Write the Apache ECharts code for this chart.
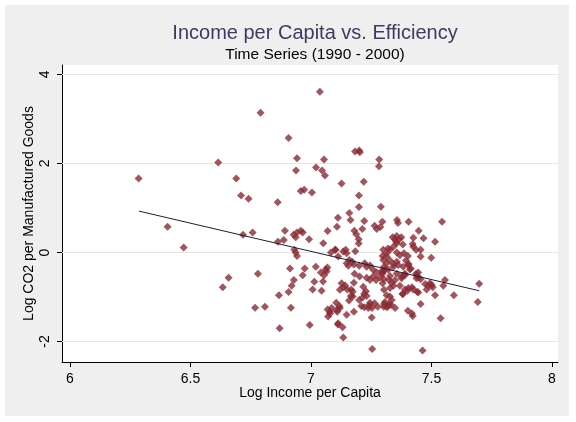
<!DOCTYPE html>
<html>
<head>
<meta charset="utf-8">
<script src="https://cdn.jsdelivr.net/npm/echarts@6/dist/echarts.min.js"></script>
<style>
html,body{margin:0;padding:0;background:#ffffff;}
#chart{width:576px;height:422px;}
</style>
</head>
<body>
<div id="chart"></div>
<script>
// ---- data ----
const xTicks = [6, 6.5, 7, 7.5, 8];
const yTicks = [-2, 0, 2, 4];

const logIncome = [
6.285,6.615,6.69,6.71,7.037,6.791,6.907,6.741,6.862,6.942,6.938,7.021,7.046,7.054,7.058,6.958,6.972,7.004,7.127,
7.183,7.20,7.203,7.219,7.283,7.282,7.199,7.199,7.29,6.405,6.472,6.658,6.634,6.718,6.758,6.78,6.768,6.809,6.867,6.87,
6.863,6.892,6.887,6.928,6.937,6.942,6.958,6.966,6.992,6.931,6.937,6.942,6.913,6.974,6.929,6.92,6.907,6.966,7.02,
7.041,7.061,7.068,7.014,7.05,7.007,7.044,6.917,6.995,7.051,7.069,7.083,7.102,7.113,7.108,7.112,7.159,7.164,7.221,
7.213,7.18,7.188,7.198,7.198,7.264,7.273,7.288,7.296,7.357,7.144,7.148,7.184,7.159,7.171,7.178,7.148,7.155,7.223,
7.20,7.181,7.202,7.178,7.231,7.245,7.258,7.27,7.286,7.296,7.303,7.295,7.303,7.314,7.321,7.342,7.356,7.297,7.314,
7.328,7.342,7.356,7.339,7.356,7.258,7.273,7.245,7.231,7.127,7.134,7.142,7.12,7.167,7.173,7.158,7.20,7.214,7.221,
7.228,7.209,7.221,7.241,7.253,7.264,7.277,7.252,7.303,7.314,7.328,7.335,7.324,7.307,7.302,7.315,7.069,7.079,7.086,
7.071,7.109,7.12,7.105,7.118,7.148,7.178,7.112,7.131,7.134,7.254,7.335,7.328,7.324,7.297,7.361,7.405,7.544,7.447,
7.467,7.515,7.425,7.422,7.349,7.366,7.375,7.353,7.381,7.30,7.32,7.425,7.436,7.455,7.369,7.386,7.402,7.455,7.499,
7.30,7.314,7.328,7.342,7.362,7.394,7.405,7.414,7.307,7.297,7.328,7.356,7.376,7.39,7.436,7.447,7.455,7.438,7.474,
7.488,7.505,7.494,7.556,7.549,7.515,7.593,7.698,7.692,7.538,7.455,7.402,7.422,7.419,7.381,7.404,7.419,7.441,7.342,
7.303,7.32,7.333,7.349,7.463,7.10,7.134,7.065,7.054,7.151,7.217,7.173,7.165,7.079,7.107,7.113,7.231,7.245,7.238,
7.369,7.39,7.38,7.349,7.383,7.404,7.411,7.39,7.376,7.438,7.445,7.501,7.48,7.40,7.425,7.445,7.356
];
const logCO2 = [
1.66,2.02,1.66,1.28,3.61,3.14,2.57,1.21,1.13,2.12,1.84,1.91,1.84,2.09,1.73,1.38,1.41,1.35,1.55,
2.27,2.29,2.25,1.59,2.09,1.94,1.28,1.02,1.03,0.58,0.11,-0.57,-0.78,0.40,0.45,-0.48,-1.24,-1.22,-0.96,-1.70,
0.24,0.49,0.28,0.40,0.34,0.45,0.49,0.45,0.30,0.06,0.00,-0.08,-0.36,-0.36,-0.62,-0.75,-0.89,-0.51,-0.32,
-0.45,-0.38,-0.34,-0.66,-0.65,-0.83,-0.86,-1.24,-1.63,0.21,0.48,0.00,0.06,-0.09,0.58,0.78,0.89,0.73,0.71,
0.53,0.49,0.41,0.30,0.20,0.60,0.53,0.57,0.69,0.73,0.06,-0.02,0.03,-0.17,-0.21,-0.27,-0.24,-0.30,-0.24,
-0.30,-0.48,-0.54,-0.68,-0.57,-0.62,-0.54,-0.62,-0.56,-0.48,-0.60,-0.41,-0.32,-0.24,-0.39,-0.32,-0.21,-0.08,-0.02,
0.06,0.13,0.21,0.34,0.37,-0.39,-0.45,-0.29,-0.32,-0.69,-0.78,-0.74,-0.84,-0.83,-0.99,-1.08,-1.07,-1.01,-0.93,
-0.87,-1.20,-1.23,-1.18,-1.25,-1.14,-1.22,-1.46,-0.84,-0.96,-0.99,-1.07,-1.16,-1.11,-1.22,-1.23,-1.28,-1.33,-1.25,
-1.44,-1.33,-1.25,-1.13,-1.20,-1.40,-1.33,-1.62,-1.68,-1.91,-2.17,-0.68,-0.80,-0.62,-0.69,0.66,0.69,0.69,0.49,
0.32,0.24,0.33,0.19,0.30,0.30,0.34,0.24,0.18,0.06,0.09,0.13,0.06,0.06,-0.06,-0.02,-0.08,-0.09,-0.12,
-0.17,-0.09,-0.18,-0.26,-0.28,-0.18,-0.26,-0.36,-0.39,-0.45,-0.53,-0.48,-0.54,-0.48,-0.48,-0.56,-0.60,-0.58,-0.71,
-0.75,-0.78,-0.69,-0.62,-0.75,-0.96,-0.96,-0.70,-1.11,-1.48,-1.16,-1.31,-1.43,-1.37,-0.94,-0.80,-0.78,-0.88,-0.75,
-1.16,-1.20,-1.18,-0.62,-2.20,0.06,0.02,-0.43,-0.51,-0.83,-0.77,-0.88,-0.98,-1.37,-1.29,-1.59,-0.98,-1.13,-1.25,
-0.75,-0.83,-0.93,-1.25,-0.32,-0.28,-0.38,-0.51,-0.58,-0.51,-0.45,-0.73,-0.83,-0.86,-0.83,-0.90,0.00
];
const fitX = [6.286, 7.698];
const fitY = [0.93, -0.86];

// ---- chart ----
const chart = echarts.init(document.getElementById('chart'), null, {renderer: 'canvas'});
const FONT = 'Liberation Sans, Arial, sans-serif';
const pts = logIncome.map((x, i) => [x, logCO2[i]]);
const fitPts = fitX.map((x, i) => [x, fitY[i]]);

chart.setOption({
  animation: false,
  backgroundColor: '#ffffff',
  graphic: [{
    type: 'rect', z: -10, silent: true,
    shape: {x: 5, y: 5, width: 564, height: 411},
    style: {fill: '#efefef'}
  }],
  title: {
    text: 'Income per Capita vs. Efficiency',
    subtext: 'Time Series (1990 - 2000)',
    left: 310, textAlign: 'center', top: 18, itemGap: 4,
    textStyle: {fontFamily: FONT, fontSize: 20, fontWeight: 'normal', color: '#3b3b63'},
    subtextStyle: {fontFamily: FONT, fontSize: 15.5, color: '#000000'}
  },
  grid: {
    left: 62, right: 18, top: 65, bottom: 60,
    show: true, backgroundColor: '#ffffff', borderWidth: 0
  },
  xAxis: {
    type: 'value', min: 5.967, max: 8.025,
    name: 'Log Income per Capita', nameLocation: 'middle', nameGap: 24, nameMoveOverlap: false,
    nameTextStyle: {fontFamily: FONT, fontSize: 14, color: '#000'},
    axisLine: {show: true, onZero: false, lineStyle: {color: '#000', width: 1}},
    axisTick: {show: true, length: 5, customValues: xTicks, lineStyle: {color: '#000'}},
    axisLabel: {customValues: xTicks, fontFamily: FONT, fontSize: 14, color: '#000', margin: 10},
    splitLine: {show: false}
  },
  yAxis: {
    type: 'value', min: -2.461, max: 4.213,
    name: 'Log CO2 per Manufactured Goods', nameLocation: 'middle', nameGap: 26, nameMoveOverlap: false,
    nameTextStyle: {fontFamily: FONT, fontSize: 14, color: '#000'},
    axisLine: {show: true, onZero: false, lineStyle: {color: '#000', width: 1}},
    axisTick: {show: true, length: 5, customValues: yTicks, lineStyle: {color: '#000'}},
    axisLabel: {customValues: yTicks, rotate: 90, fontFamily: FONT, fontSize: 14, color: '#000', margin: 10},
    splitLine: {show: false}
  },
  series: [
    {
      type: 'line', data: fitPts, symbol: 'none', z: 3,
      lineStyle: {color: '#1e1e3c', width: 1},
      markLine: {
        silent: true, symbol: 'none', label: {show: false}, z: 1,
        lineStyle: {color: '#e6e6e6', width: 1, type: 'solid'},
        data: yTicks.map(v => ({yAxis: v}))
      }
    },
    {
      type: 'scatter', data: pts, symbol: 'diamond', symbolSize: 8, z: 2,
      itemStyle: {color: '#8a2a33'}
    }
  ]
});
</script>
</body>
</html>
